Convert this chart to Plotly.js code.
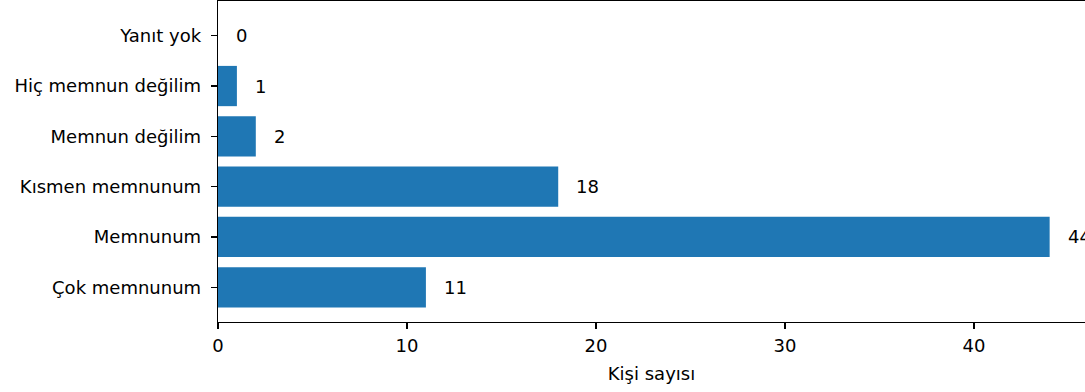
<!DOCTYPE html>
<html>
<head>
<meta charset="utf-8">
<script src="https://cdn.plot.ly/plotly-3.0.1.min.js"></script>
<style>html,body{margin:0;padding:0;background:#fff;}#chart{width:1085px;height:392px;}</style>
</head>
<body>
<div id="chart"></div>
<script>
// Data (bottom to top)
const categories = ["Çok memnunum", "Memnunum", "Kısmen memnunum", "Memnun değilim", "Hiç memnun değilim", "Yanıt yok"];
const counts = [11, 44, 18, 2, 1, 0];
const xTicks = [0, 10, 20, 30, 40];
const xTitle = "Kişi sayısı";

const font = {family: "DejaVu Sans", size: 18, color: "#000"};

const trace = {
  type: "bar",
  orientation: "h",
  x: counts,
  y: categories,
  width: 0.8,
  marker: {color: "#1f77b4"},
  hoverinfo: "x+y"
};

const annotations = counts.map((v, i) => ({
  x: v + 0.85,
  y: categories[i],
  xref: "x",
  yref: "y",
  text: String(v),
  showarrow: false,
  xanchor: "left",
  yanchor: "middle",
  font: font
}));

const layout = {
  width: 1085,
  height: 392,
  margin: {l: 218, r: 0, t: 1, b: 70, pad: 0},
  paper_bgcolor: "#fff",
  plot_bgcolor: "#fff",
  font: font,
  showlegend: false,
  xaxis: {
    range: [0, 45.87],
    tickvals: xTicks,
    ticktext: xTicks.map(String),
    showgrid: false,
    zeroline: false,
    showline: true,
    mirror: true,
    linecolor: "#000",
    linewidth: 1.3,
    ticks: "outside",
    ticklen: 6,
    tickwidth: 1.3,
    tickcolor: "#000",
    ticklabelstandoff: 1,
    tickfont: font,
    title: {text: xTitle, font: font, standoff: 12}
  },
  yaxis: {
    type: "category",
    categoryorder: "array",
    categoryarray: categories,
    range: [-0.69, 5.69],
    showgrid: false,
    zeroline: false,
    showline: true,
    mirror: false,
    linecolor: "#000",
    linewidth: 1.3,
    ticks: "outside",
    ticklen: 6,
    tickwidth: 1.3,
    tickcolor: "#000",
    ticklabelstandoff: 6,
    tickfont: font
  },
  annotations: annotations
};

Plotly.newPlot("chart", [trace], layout, {displayModeBar: false, staticPlot: true});
</script>
</body>
</html>
